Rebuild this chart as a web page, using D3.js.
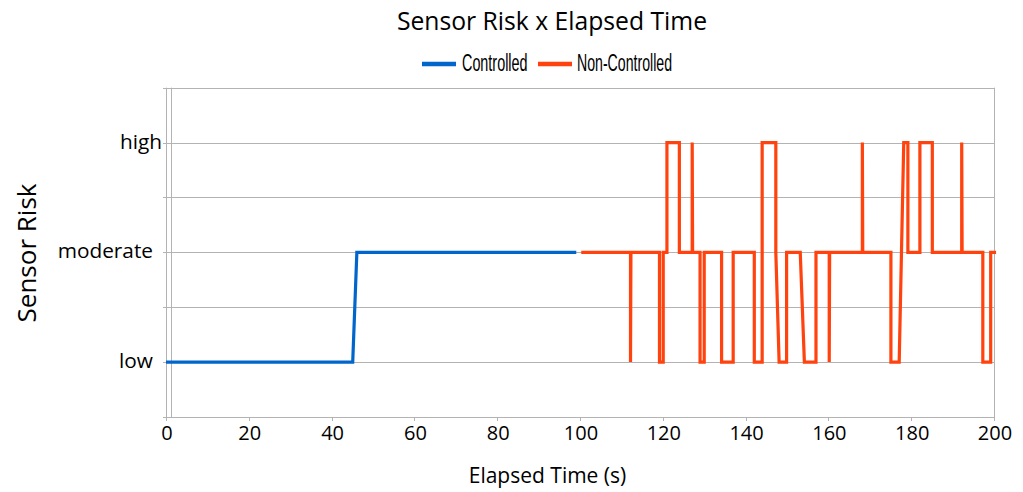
<!DOCTYPE html>
<html>
<head>
<meta charset="utf-8">
<script src="https://cdn.jsdelivr.net/npm/d3@7"></script>
<style>
  body { margin: 0; background: #fff; }
  text { font-family: "Open Sans", sans-serif; fill: #000; }
  .grid line { stroke: #b3b3b3; stroke-width: 1; }
  .legend text { font-family: "Liberation Sans Narrow", "Liberation Sans", sans-serif; }
</style>
</head>
<body>
<svg class="scene"></svg>
<script>

//
// data
//

var riskLevels = [1, 2, 3];
var riskLabels = ["low", "moderate", "high"];
var timeTicks = [0, 20, 40, 60, 80, 100, 120, 140, 160, 180, 200];

var controlledTime = [0, 45.1, 46.1, 99.1];
var controlledRisk = [1, 1, 2, 2];

var nonControlledTime = [
    100.3, 112.2, 112.2, 112.3, 119.2, 119.2, 120.1, 120.1, 121.0, 121.0,
    124.0, 124.0, 127.1, 127.1, 127.2, 129.0, 129.0, 130.0, 130.0, 134.2,
    134.2, 137.0, 137.0, 142.1, 142.1, 144.0, 144.0, 147.3, 147.3, 148.1,
    149.9, 149.9, 153.2, 154.2, 157.0, 157.0, 160.2, 160.2, 160.3, 168.2,
    168.2, 168.3, 175.1, 175.1, 177.1, 178.2, 179.2, 179.2, 182.1, 182.1,
    185.1, 185.1, 192.2, 192.2, 192.3, 197.3, 197.3, 199.2, 199.2, 200.5
];
var nonControlledRisk = [
    2, 2, 1, 2, 2, 1, 1, 2, 2, 3,
    3, 2, 2, 3, 2, 2, 1, 1, 2, 2,
    1, 1, 2, 2, 1, 1, 3, 3, 2, 1,
    1, 2, 2, 1, 1, 2, 2, 1, 2, 2,
    3, 2, 2, 1, 1, 3, 3, 2, 2, 3,
    3, 2, 2, 3, 2, 2, 1, 1, 2, 2
];

var series = [
    { name: "Controlled", color: "#0066cc", time: controlledTime, risk: controlledRisk },
    { name: "Non-Controlled", color: "#ff420e", time: nonControlledTime, risk: nonControlledRisk }
];

//
// scene
//

var width = 1023,
    height = 492;

var plotLeft = 166, plotRight = 994, plotTop = 87.7, plotBottom = 417;

var scene = d3.select(".scene")
    .attr("width", width)
    .attr("height", height);

var x = d3.scaleLinear().domain([0, 200]).range([plotLeft, plotRight]);
var y = d3.scaleLinear().domain([0.5, 3.5]).range([plotBottom, plotTop]);

//
// grid
//

var grid = scene.append("g").attr("class", "grid");
var yGrid = d3.range(0.5, 3.51, 0.5);
grid.selectAll("line.h")
    .data(yGrid)
    .enter().append("line")
    .attr("class", "h")
    .attr("x1", plotLeft - 3)
    .attr("x2", plotRight)
    .attr("y1", function (d) { return Math.round(y(d)) + 0.5; })
    .attr("y2", function (d) { return Math.round(y(d)) + 0.5; });

// frame
grid.append("line")
    .attr("x1", plotLeft + 0.5).attr("x2", plotLeft + 0.5)
    .attr("y1", plotTop).attr("y2", plotBottom + 4);
grid.append("line")
    .attr("x1", Math.round(x(1.1)) + 0.5).attr("x2", Math.round(x(1.1)) + 0.5)
    .attr("y1", plotTop).attr("y2", plotBottom);
grid.append("line")
    .attr("x1", plotRight + 0.5).attr("x2", plotRight + 0.5)
    .attr("y1", plotTop).attr("y2", plotBottom + 4);

// x ticks
grid.selectAll("line.xt")
    .data(timeTicks)
    .enter().append("line")
    .attr("class", "xt")
    .attr("x1", function (d) { return Math.round(x(d)) + 0.5; })
    .attr("x2", function (d) { return Math.round(x(d)) + 0.5; })
    .attr("y1", plotBottom)
    .attr("y2", plotBottom + 4);

//
// axis labels
//

scene.selectAll("text.xtick")
    .data(timeTicks)
    .enter().append("text")
    .attr("class", "xtick")
    .attr("x", function (d) { return x(d) + 1; })
    .attr("y", plotBottom + 23)
    .attr("text-anchor", "middle")
    .style("font-size", "20px")
    .text(function (d) { return d; });

scene.selectAll("text.ytick")
    .data(riskLevels)
    .enter().append("text")
    .attr("class", "ytick")
    .attr("x", function (d) { return d === 3 ? plotLeft - 4 : plotLeft - 13; })
    .attr("y", function (d) { return y(d) + 6; })
    .attr("text-anchor", "end")
    .style("font-size", "20.8px")
    .text(function (d, i) { return riskLabels[i]; });

scene.append("text")
    .attr("x", 552)
    .attr("y", 30)
    .attr("text-anchor", "middle")
    .style("font-size", "24.7px")
    .text("Sensor Risk x Elapsed Time");

scene.append("text")
    .attr("x", 547.5)
    .attr("y", 483)
    .attr("text-anchor", "middle")
    .style("font-size", "21px")
    .text("Elapsed Time (s)");

scene.append("text")
    .attr("transform", "translate(36,253) rotate(-90)")
    .attr("text-anchor", "middle")
    .style("font-size", "26px")
    .text("Sensor Risk");

//
// series
//

var line = d3.line()
    .x(function (d) { return x(d[0]); })
    .y(function (d) { return y(d[1]); });

scene.selectAll("path.series")
    .data(series)
    .enter().append("path")
    .attr("class", "series")
    .attr("fill", "none")
    .attr("stroke", function (d) { return d.color; })
    .attr("stroke-width", 3.2)
    .attr("stroke-linejoin", "miter")
    .attr("stroke-miterlimit", 2)
    .attr("d", function (d) {
        return line(d3.zip(d.time, d.risk));
    });

//
// legend
//

var legendItems = [
    { x1: 422, x2: 456, tx: 462, tw: 65.5 },
    { x1: 538, x2: 572, tx: 577, tw: 95 }
];

var legend = scene.append("g").attr("class", "legend")
    .selectAll("g")
    .data(series)
    .enter().append("g");

legend.append("line")
    .attr("x1", function (d, i) { return legendItems[i].x1; })
    .attr("x2", function (d, i) { return legendItems[i].x2; })
    .attr("y1", 64)
    .attr("y2", 64)
    .attr("stroke", function (d) { return d.color; })
    .attr("stroke-width", 4.5);

legend.append("text")
    .attr("x", function (d, i) { return legendItems[i].tx; })
    .attr("y", 70.5)
    .attr("textLength", function (d, i) { return legendItems[i].tw; })
    .attr("lengthAdjust", "spacingAndGlyphs")
    .style("font-size", "23px")
    .text(function (d) { return d.name; });

</script>
</body>
</html>
